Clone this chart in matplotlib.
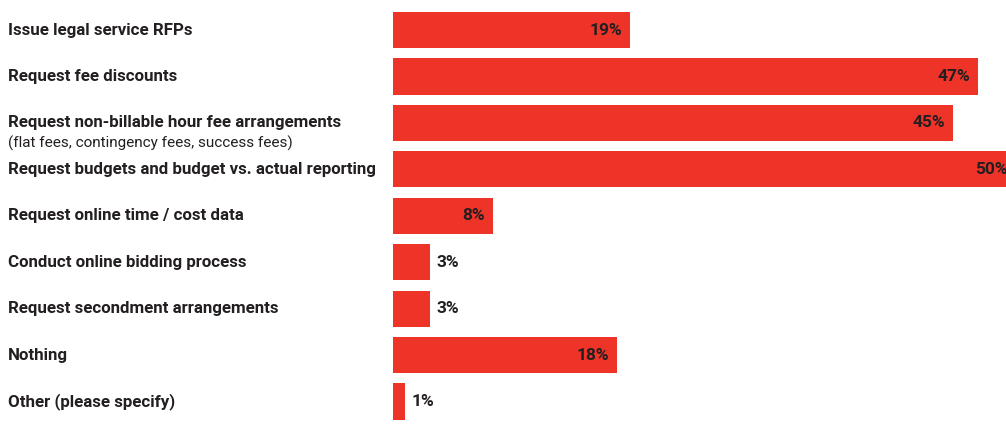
import matplotlib
matplotlib.use("Agg")
import matplotlib.pyplot as plt
from matplotlib.transforms import blended_transform_factory

labels = ["Issue legal service RFPs",
          "Request fee discounts",
          "Request non-billable hour fee arrangements",
          "Request budgets and budget vs. actual reporting",
          "Request online time / cost data",
          "Conduct online bidding process",
          "Request secondment arrangements",
          "Nothing",
          "Other (please specify)"]
sublabels = ["", "", "(flat fees, contingency fees, success fees)", "", "", "", "", "", ""]
values = [19, 47, 45, 50, 8, 3, 3, 18, 1]

RED = "#ee3429"
INK = "#231f20"
FONT = ["Roboto", "DejaVu Sans"]

fig = plt.figure(figsize=(10.06, 4.29), dpi=100)
ax = fig.add_axes([393 / 1006, 0.01, 1 - 393 / 1006, 0.974])

ypos = list(range(len(values)))
ax.barh(ypos, values, height=0.78, color=RED)
ax.set_xlim(0, 49.24)
ax.set_ylim(len(values) - 0.5, -0.5)
ax.axis("off")

# category labels sit at figure left, aligned with each bar
trans = blended_transform_factory(fig.transFigure, ax.transData)
for i, (lab, sub) in enumerate(zip(labels, sublabels)):
    ax.text(8 / 1006, i, lab, transform=trans, ha="left", va="center",
            fontsize=12.2, fontweight="bold", color=INK, family=FONT)
    if sub:
        ax.text(8 / 1006, i + 0.43, sub, transform=trans, ha="left", va="center",
                fontsize=11, color=INK, family=FONT)

for i, v in enumerate(values):
    if v >= 5:
        off, ha = -5.5, "right"
    else:
        off, ha = 4.5, "left"
    ax.annotate(f"{v}%", (v, i), xytext=(off, 0), textcoords="offset points",
                ha=ha, va="center", fontsize=12.5, fontweight="bold",
                color=INK, family=FONT, annotation_clip=False)

fig.savefig("out.png", dpi=100)
